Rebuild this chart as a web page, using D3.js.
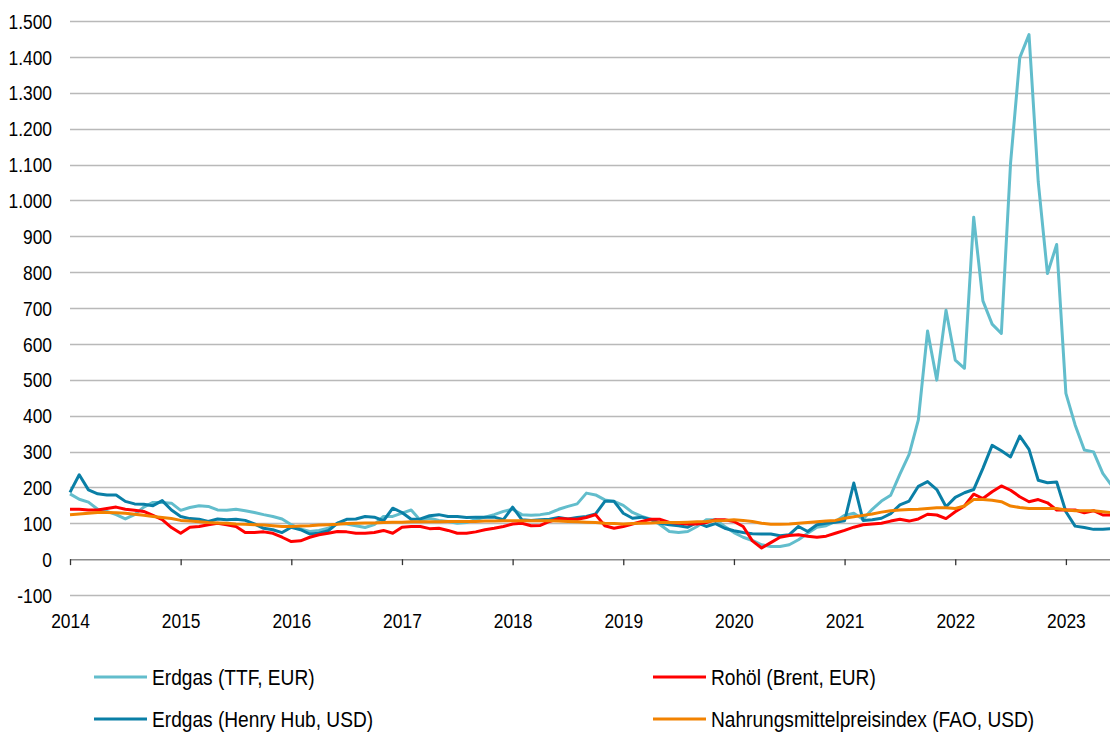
<!DOCTYPE html>
<html lang="de">
<head>
<meta charset="utf-8">
<script src="https://cdn.jsdelivr.net/npm/d3@7"></script>
<style>
  html, body { margin: 0; padding: 0; background: #fff; }
  #chart { width: 1110px; height: 733px; }
  text { font-family: "Liberation Sans", Arial, sans-serif; fill: #000; }
</style>
</head>
<body>
<div id="chart"></div>
<script>
// Monatswerte Jan 2014 - Jun 2023
const startYear = 2014;
const yearLabels = ["2014", "2015", "2016", "2017", "2018", "2019", "2020", "2021", "2022", "2023"];
const yTicks = [-100, 0, 100, 200, 300, 400, 500, 600, 700, 800, 900, 1000, 1100, 1200, 1300, 1400, 1500];

const ttf = [
  182, 167, 159, 139, 133, 124, 112, 124, 145, 158, 158, 156,
  136, 144, 149, 147, 137, 136, 139, 135, 130, 124, 119, 112,
  96, 84, 77, 80, 86, 100, 98, 93, 88, 96, 119, 119,
  128, 137, 108, 114, 108, 105, 100, 102, 110, 117, 124, 133,
  139, 124, 122, 124, 128, 139, 147, 154, 184, 179, 165, 161,
  150, 130, 119, 111, 96, 77, 74, 77, 91, 110, 110, 91,
  74, 61, 52, 40, 35, 35, 40, 54, 72, 89, 93, 105,
  122, 128, 111, 139, 162, 178, 237, 292, 388, 636, 499, 694,
  555, 532, 953, 720, 655, 629, 1104, 1398, 1462, 1052, 796, 877,
  462, 374, 304, 299, 239, 204
];
const henryHub = [
  186, 235, 193, 182, 179, 179, 161, 154, 153, 149, 163, 137,
  119, 113, 111, 105, 112, 110, 111, 108, 98, 86, 82, 74,
  89, 82, 70, 72, 79, 100, 111, 112, 119, 117, 107, 142,
  130, 111, 112, 121, 124, 119, 119, 116, 117, 117, 117, 110,
  145, 110, 108, 110, 111, 116, 112, 116, 119, 126, 161, 161,
  128, 114, 117, 110, 100, 96, 93, 89, 102, 91, 99, 86,
  79, 74, 71, 70, 70, 65, 68, 91, 77, 96, 100, 103,
  107, 212, 108, 110, 114, 127, 151, 162, 203, 216, 194, 146,
  172, 185, 194, 253, 317, 302, 285, 343, 306, 220, 213, 215,
  132, 92, 88, 83, 83, 85
];
const brent = [
  139, 139, 137, 137, 141, 145, 139, 136, 133, 122, 110, 88,
  72, 89, 91, 96, 100, 96, 91, 74, 74, 76, 72, 61,
  49, 51, 61, 68, 72, 77, 76, 72, 72, 74, 80, 72,
  89, 91, 91, 85, 86, 80, 72, 72, 76, 82, 86, 91,
  98, 100, 93, 94, 105, 113, 112, 111, 116, 124, 93, 86,
  91, 98, 105, 111, 111, 102, 100, 98, 98, 102, 110, 110,
  105, 91, 51, 31, 46, 61, 66, 68, 64, 61, 64, 72,
  80, 89, 96, 98, 100, 106, 111, 106, 112, 125, 123, 113,
  132, 148, 181, 169, 188, 204, 192, 174, 160, 166, 157, 137,
  137, 137, 129, 135, 123, 123
];
const fao = [
  124, 126, 128, 130, 130, 129, 128, 125, 122, 119, 116, 113,
  108, 106, 104, 102, 101, 100, 98, 97, 96, 95, 93, 91,
  91, 92, 93, 95, 96, 97, 99, 100, 101, 101, 102, 103,
  103, 104, 104, 104, 104, 105, 105, 105, 105, 106, 106, 107,
  107, 107, 107, 107, 107, 106, 105, 104, 103, 102, 100, 99,
  98, 99, 100, 101, 102, 102, 102, 103, 104, 105, 107, 108,
  110, 108, 105, 100, 97, 97, 98, 100, 102, 104, 106, 108,
  114, 118, 122, 126, 131, 135, 137, 138, 139, 141, 143, 143,
  141, 148, 166, 166, 164, 160, 148, 144, 141, 141, 141, 141,
  137, 135, 135, 135, 132, 129
];

const seriesNames = ["Erdgas (TTF, EUR)", "Rohöl (Brent, EUR)", "Erdgas (Henry Hub, USD)", "Nahrungsmittelpreisindex (FAO, USD)"];

document.addEventListener("DOMContentLoaded", () => {
  const width = 1110;
  const height = 733;
  const squeeze = 0.87; // the original font looks horizontally condensed

  const svg = d3
    .select("#chart")
    .append("svg")
    .attr("width", width)
    .attr("height", height);

  // Scales
  const xScale = d3.scaleLinear().domain([0, 113]).range([70, 1112]);
  const yScale = d3.scaleLinear().domain([-100, 1500]).range([595, 21]);

  const de = d3.formatLocale({ decimal: ",", thousands: ".", grouping: [3], currency: ["", " €"], minus: "-" });
  const fmt = de.format(",d");

  // Gridlines
  svg
    .append("g")
    .selectAll("line")
    .data(yTicks.filter((v) => v !== 0))
    .enter()
    .append("line")
    .attr("x1", 70)
    .attr("x2", width)
    .attr("y1", (v) => Math.round(yScale(v)) + 0.5)
    .attr("y2", (v) => Math.round(yScale(v)) + 0.5)
    .attr("stroke", "#b9b9b9")
    .attr("stroke-width", 1.4);

  // Y axis (labels only)
  const yAxis = d3.axisLeft(yScale).tickValues(yTicks).tickSize(0).tickPadding(0).tickFormat(fmt);
  const gy = svg.append("g").attr("transform", "translate(52,0)").call(yAxis);
  gy.select(".domain").remove();
  gy.selectAll(".tick text")
    .attr("font-size", "20px")
    .attr("font-family", "Liberation Sans, Arial, sans-serif")
    .attr("fill", "#000")
    .attr("dy", "0.36em")
    .attr("transform", `scale(${squeeze},1)`);

  // X axis
  const yearIdx = yearLabels.map((d, i) => i * 12);
  const xAxis = d3
    .axisBottom(xScale)
    .tickValues(yearIdx)
    .tickSize(6)
    .tickSizeOuter(0)
    .tickFormat((d) => yearLabels[d / 12]);
  const gx = svg.append("g").attr("transform", `translate(0,${yScale(0)})`).call(xAxis);
  gx.select(".domain").attr("stroke", "#8c8c8c").attr("stroke-width", 1.5).attr("d", `M70,0.5H${width}`);
  gx.selectAll(".tick line").attr("stroke", "#333").attr("stroke-width", 1.3);
  gx.selectAll(".tick text")
    .attr("font-size", "20px")
    .attr("font-family", "Liberation Sans, Arial, sans-serif")
    .attr("fill", "#000")
    .attr("y", 69)
    .attr("dy", 0)
    .attr("transform", `scale(${squeeze},1)`);

  // Lines
  const line = d3
    .line()
    .x((d, i) => xScale(i))
    .y((d) => yScale(d));

  const series = [
    { values: ttf, color: "#62bdcc" },
    { values: henryHub, color: "#0a7fa6" },
    { values: brent, color: "#ff0000" },
    { values: fao, color: "#f28200" },
  ];

  svg
    .append("g")
    .selectAll("path")
    .data(series)
    .enter()
    .append("path")
    .attr("d", (s) => line(s.values))
    .attr("fill", "none")
    .attr("stroke", (s) => s.color)
    .attr("stroke-width", 3)
    .attr("stroke-linejoin", "round");

  // Legend
  const legend = [
    { name: seriesNames[0], color: "#62bdcc", x: 94, y: 677 },
    { name: seriesNames[1], color: "#ff0000", x: 653, y: 677 },
    { name: seriesNames[2], color: "#0a7fa6", x: 94, y: 719 },
    { name: seriesNames[3], color: "#f28200", x: 653, y: 719 },
  ];
  const items = svg
    .append("g")
    .selectAll("g")
    .data(legend)
    .enter()
    .append("g")
    .attr("transform", (d) => `translate(${d.x},${d.y})`);
  items
    .append("line")
    .attr("x1", 0)
    .attr("x2", 53)
    .attr("stroke", (d) => d.color)
    .attr("stroke-width", 3);
  items
    .append("text")
    .attr("transform", "translate(58,7.5) scale(0.89,1)")
    .attr("font-size", "21.5px")
    .text((d) => d.name);
});
</script>
</body>
</html>
